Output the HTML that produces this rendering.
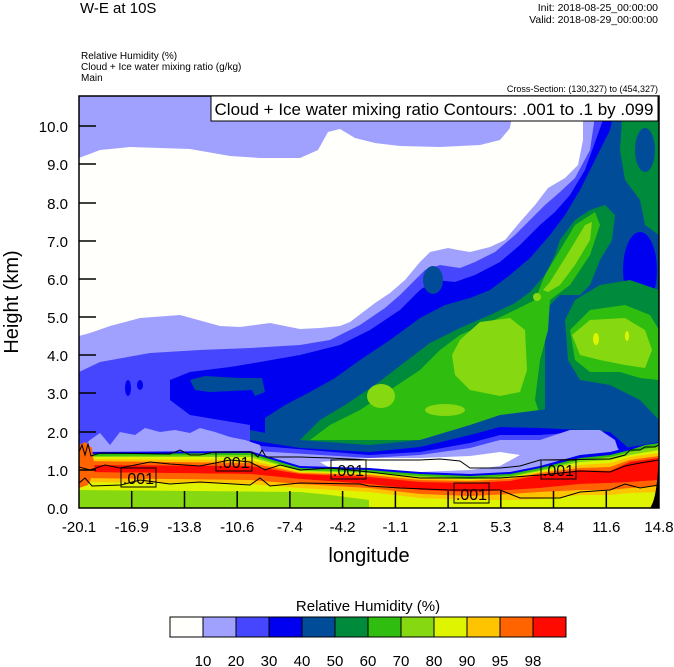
<!DOCTYPE html>
<html><head><meta charset="utf-8"><style>
html,body{margin:0;padding:0;background:#fff;}
svg{display:block;font-family:"Liberation Sans",sans-serif;}
</style></head><body>
<svg width="674" height="667" viewBox="0 0 674 667" xmlns="http://www.w3.org/2000/svg">
<defs><clipPath id="pc"><rect x="79" y="96" width="580" height="412"/></clipPath></defs>
<text x="80" y="13" font-size="15">W-E at 10S</text>
<text x="658" y="11" font-size="10.5" text-anchor="end">Init: 2018-08-25_00:00:00</text>
<text x="658" y="23" font-size="10.5" text-anchor="end">Valid: 2018-08-29_00:00:00</text>
<text x="81" y="59" font-size="10">Relative Humidity   (%)</text>
<text x="81" y="70" font-size="10">Cloud + Ice water mixing ratio   (g/kg)</text>
<text x="81" y="81" font-size="10">Main</text>
<text x="658" y="92" font-size="9" text-anchor="end">Cross-Section: (130,327) to (454,327)</text>
<g clip-path="url(#pc)">
<rect x="79" y="96" width="580" height="412" fill="#a0a0ff"/>
<ellipse cx="435" cy="96" rx="75" ry="5" fill="#4646ff"/>
<polygon fill="#fffffb" points="79,158 100,150 130,147 190,149 230,156 260,158 300,158 318,150 328,132 340,129 355,138 375,143 400,146 440,147 480,145 500,140 510,128 515,96 583,96 583,140 578,165 565,178 548,188 535,205 520,222 505,240 490,247 470,252 458,250 448,248 430,252 420,262 405,280 390,293 375,303 350,322 340,326 320,328 300,329 270,323 240,327 220,326 180,315 140,318 110,326 90,333 79,336"/>
<polygon fill="#4646ff" points="79,372 100,362 150,353 200,350 250,348 300,345 330,340 360,325 385,308 400,295 415,280 425,270 440,265 460,268 475,262 495,252 515,235 530,220 545,205 560,192 575,178 590,150 598,96 659,96 659,508 79,508"/>
<polygon fill="#0000f0" points="170,380 190,372 230,367 260,362 300,355 340,345 370,330 400,310 420,290 435,280 455,282 475,275 500,262 520,245 540,225 555,212 570,195 585,170 603,120 608,96 659,96 659,508 250,508 250,425 190,415 170,400"/>
<ellipse cx="128" cy="388" rx="3" ry="8" fill="#0000f0"/>
<ellipse cx="140" cy="385" rx="3" ry="5" fill="#0000f0"/>
<polygon fill="#004c99" points="190,380 205,376 240,378 262,378 265,392 255,396 252,390 210,392 195,390"/>
<polygon fill="#004c99" points="265,508 265,418 285,405 310,392 335,378 360,360 390,340 420,318 445,305 470,298 490,290 510,275 530,258 550,235 565,215 580,190 595,160 610,130 618,96 659,96 659,508"/>
<ellipse cx="433" cy="280" rx="10" ry="14" fill="#004c99"/>
<polygon fill="#008a3c" points="300,508 300,440 320,420 345,405 375,385 405,362 430,343 460,328 490,315 515,303 530,292 545,275 555,255 560,240 575,220 590,210 605,205 615,215 612,240 600,260 590,285 580,295 560,295 545,310 545,420 555,440 659,440 659,508"/>
<polygon fill="#008a3c" points="630,96 659,96 659,235 645,225 640,200 625,180 620,150 622,120"/>
<ellipse cx="645" cy="150" rx="10" ry="22" fill="#004c99"/>
<ellipse cx="640" cy="270" rx="17" ry="38" fill="#0000f0"/>
<polygon fill="#008a3c" points="575,300 600,285 630,280 659,290 659,420 640,400 610,385 580,380 568,360 565,320"/>
<polygon fill="#2fbe10" points="570,330 590,310 625,305 650,315 659,330 659,380 640,378 620,372 590,372 575,360"/>
<polygon fill="#86d810" points="572,335 590,320 625,318 645,330 652,350 645,368 625,365 600,360 580,355"/>
<ellipse cx="596" cy="339" rx="3" ry="6" fill="#def400"/>
<ellipse cx="627" cy="336" rx="2" ry="5" fill="#def400"/>
<polygon fill="#2fbe10" points="310,440 330,425 360,410 390,390 420,370 440,350 460,335 490,322 515,310 535,300 545,290 550,300 548,330 540,360 535,400 545,430 520,440 480,440 450,438 420,440 369,440"/>
<polygon fill="#2fbe10" points="535,300 545,275 560,250 575,225 595,212 600,225 590,255 570,285 550,300"/>
<polygon fill="#86d810" points="543,290 550,282 570,250 585,225 592,222 590,240 575,265 560,285 548,292"/>
<circle cx="537" cy="297" r="4" fill="#86d810"/>
<polygon fill="#86d810" points="460,340 480,322 510,318 525,330 527,370 520,392 500,396 470,390 455,375 452,355"/>
<ellipse cx="381" cy="396" rx="14" ry="12" fill="#86d810"/>
<ellipse cx="445" cy="410" rx="20" ry="6" fill="#86d810"/>
<polygon fill="#004c99" points="250,430 300,440 369,445 420,440 470,425 500,415 540,410 580,405 610,408 630,420 640,440 659,440 659,508 250,508"/>
<polygon fill="#0000f0" points="250,440 300,448 369,452 420,447 470,435 500,427 540,428 580,430 610,432 625,445 635,455 630,508 250,508"/>
<polygon fill="#4646ff" points="250,445 369,455 420,452 470,443 500,435 540,435 580,432 605,435 620,450 615,508 250,508"/>
<polygon fill="#a0a0ff" points="240,450 369,458 420,455 470,448 500,440 540,440 570,430 600,430 615,440 620,455 610,508 240,508"/>
<polygon fill="#a0a0ff" points="79,450 90,440 100,433 110,445 120,432 135,435 145,428 160,432 175,430 190,433 200,428 215,432 230,437 245,440 260,445 262,452 79,455"/>
<polygon fill="#fffffb" points="320,462 369,458 420,458 470,456 500,452 520,455 500,466 470,470 420,472 369,470 330,468"/>
<polygon fill="#0000f0" points="79,452 250,451 300,466 369,468 420,472 470,474 510,472 540,466 580,455 610,452 630,447 659,442 659,508 79,508"/>
<polygon fill="#2fbe10" points="79,454 250,453 300,468 369,470 420,474 470,476 510,474 540,468 580,458 610,455 630,450 645,445 659,443 659,508 79,508"/>
<polygon fill="#86d810" points="79,456 250,455 300,470 369,472 420,476 470,478 510,476 540,470 580,460 610,457 630,452 659,446 659,508 79,508"/>
<polygon fill="#def400" points="79,457 250,457 300,471 369,473 420,477 470,479 510,477 540,471 580,462 610,460 630,455 659,450 659,508 79,508"/>
<polygon fill="#ffc400" points="79,459 250,460 300,472 369,474 420,478 470,480 510,478 540,472 580,465 610,463 630,457 659,453 659,508 79,508"/>
<polygon fill="#ff6400" points="79,461 250,463 300,473 369,475 420,480 470,481 510,479 540,473 580,468 610,467 630,460 659,456 659,508 79,508"/>
<polygon fill="#ff0a00" points="79,465 250,466 300,474 369,477 420,482 470,483 510,481 540,475 580,470 610,471 630,462 659,458 659,480 630,482 610,483 580,484 540,488 510,490 470,492 420,490 369,484 300,479 250,474 79,472"/>
<polygon fill="#ff6400" points="79,472 250,474 300,479 369,484 420,490 470,492 510,490 540,488 580,484 610,483 630,482 659,480 659,508 79,508"/>
<polygon fill="#ffc400" points="79,478 250,480 300,484 369,488 420,494 470,496 510,494 540,492 580,490 610,490 630,488 659,486 659,508 79,508"/>
<polygon fill="#def400" points="79,482 250,484 300,488 369,492 420,498 470,500 510,500 540,499 580,495 610,495 630,493 659,492 659,508 79,508"/>
<polygon fill="#86d810" points="79,490 300,492 330,495 369,500 369,508 79,508"/>
<polygon fill="#ff6400" points="79,445 85,442 92,448 95,470 88,485 79,488"/>
<path d="M659,445 C658,480 656,500 650,508 L659,508 Z" fill="#000"/>
<g fill="none" stroke="#000" stroke-width="1">
<polyline points="79,452 82,445 85,455 88,444 91,456 100,453 170,454 180,450 190,455 200,455 215,452 252,452 258,457 262,450 266,457 270,457 300,457 330,458 369,460 420,460 440,459 460,461 470,468 500,468 520,466 540,460 610,459 625,455 630,450 640,450 645,447 655,447 659,445"/>
<polyline points="79,467 90,470 105,465 120,468 150,462 170,464 200,466 230,460 250,462 265,470 280,465 300,470 330,468 369,472 420,478 470,478 500,478 540,475 580,471 610,472 625,466 640,463 659,460"/>
<polyline points="79,483 85,478 92,486 121,485 140,480 170,484 200,482 250,485 260,478 270,486 300,483 360,484 369,486 400,488 450,490 500,490 520,498 560,498 580,492 610,490 625,484 640,488 659,485"/>
</g>
<g stroke="#000" stroke-width="1" fill="none">
<rect x="121" y="468" width="35" height="19"/>
<rect x="216" y="452" width="36" height="19"/>
<rect x="331" y="460" width="35" height="19"/>
<rect x="454" y="483" width="35" height="20"/>
<rect x="541" y="460" width="35" height="19"/>
</g>
<g font-size="16" fill="#000">
<text x="138.5" y="484" text-anchor="middle">.001</text>
<text x="234" y="468" text-anchor="middle">.001</text>
<text x="348.5" y="476" text-anchor="middle">.001</text>
<text x="471.5" y="500" text-anchor="middle">.001</text>
<text x="558.5" y="476" text-anchor="middle">.001</text>
</g>
</g>
<rect x="79" y="96" width="580" height="412" fill="none" stroke="#000" stroke-width="1.5"/>
<rect x="211" y="96" width="447" height="25" fill="#fff" stroke="#000" stroke-width="1"/>
<text x="434" y="115" font-size="17" text-anchor="middle">Cloud + Ice water mixing ratio Contours: .001 to .1 by .099</text>
<g stroke="#000" stroke-width="1.5">
<line x1="79" y1="470" x2="96" y2="470"/><line x1="79" y1="432" x2="96" y2="432"/><line x1="79" y1="393" x2="96" y2="393"/><line x1="79" y1="355" x2="96" y2="355"/><line x1="79" y1="317" x2="96" y2="317"/><line x1="79" y1="279" x2="96" y2="279"/><line x1="79" y1="241" x2="96" y2="241"/><line x1="79" y1="203" x2="96" y2="203"/><line x1="79" y1="164" x2="96" y2="164"/><line x1="79" y1="126" x2="96" y2="126"/>
<line x1="131.7" y1="508" x2="131.7" y2="491"/><line x1="184.5" y1="508" x2="184.5" y2="491"/><line x1="237.2" y1="508" x2="237.2" y2="491"/><line x1="289.9" y1="508" x2="289.9" y2="491"/><line x1="342.6" y1="508" x2="342.6" y2="491"/><line x1="395.4" y1="508" x2="395.4" y2="491"/><line x1="448.1" y1="508" x2="448.1" y2="491"/><line x1="500.8" y1="508" x2="500.8" y2="491"/><line x1="553.5" y1="508" x2="553.5" y2="491"/><line x1="606.3" y1="508" x2="606.3" y2="491"/>
</g>
<g font-size="15" text-anchor="end">
<text x="68" y="514">0.0</text><text x="68" y="476">1.0</text><text x="68" y="438">2.0</text><text x="68" y="399">3.0</text><text x="68" y="361">4.0</text><text x="68" y="323">5.0</text><text x="68" y="285">6.0</text><text x="68" y="247">7.0</text><text x="68" y="209">8.0</text><text x="68" y="170">9.0</text><text x="68" y="132">10.0</text>
</g>
<g font-size="15" text-anchor="middle">
<text x="79" y="532">-20.1</text><text x="131.7" y="532">-16.9</text><text x="184.5" y="532">-13.8</text><text x="237.2" y="532">-10.6</text><text x="289.9" y="532">-7.4</text><text x="342.6" y="532">-4.2</text><text x="395.4" y="532">-1.1</text><text x="448.1" y="532">2.1</text><text x="500.8" y="532">5.3</text><text x="553.5" y="532">8.4</text><text x="606.3" y="532">11.6</text><text x="659" y="532">14.8</text>
</g>
<text x="369" y="562" font-size="20" text-anchor="middle">longitude</text>
<text transform="translate(18,302) rotate(-90)" font-size="20" text-anchor="middle">Height (km)</text>
<text x="368" y="611" font-size="15" text-anchor="middle">Relative Humidity  (%)</text>
<g stroke="#000" stroke-width="1">
<rect x="170" y="617" width="33" height="20" fill="#fffffb"/>
<rect x="203" y="617" width="33" height="20" fill="#a0a0ff"/>
<rect x="236" y="617" width="33" height="20" fill="#4646ff"/>
<rect x="269" y="617" width="33" height="20" fill="#0000f0"/>
<rect x="302" y="617" width="33" height="20" fill="#004c99"/>
<rect x="335" y="617" width="33" height="20" fill="#008a3c"/>
<rect x="368" y="617" width="33" height="20" fill="#2fbe10"/>
<rect x="401" y="617" width="33" height="20" fill="#86d810"/>
<rect x="434" y="617" width="33" height="20" fill="#def400"/>
<rect x="467" y="617" width="33" height="20" fill="#ffc400"/>
<rect x="500" y="617" width="33" height="20" fill="#ff6400"/>
<rect x="533" y="617" width="33" height="20" fill="#ff0a00"/>
</g>
<g font-size="15" text-anchor="middle">
<text x="203" y="666">10</text><text x="236" y="666">20</text><text x="269" y="666">30</text><text x="302" y="666">40</text><text x="335" y="666">50</text><text x="368" y="666">60</text><text x="401" y="666">70</text><text x="434" y="666">80</text><text x="467" y="666">90</text><text x="500" y="666">95</text><text x="533" y="666">98</text>
</g>
</svg>
</body></html>
